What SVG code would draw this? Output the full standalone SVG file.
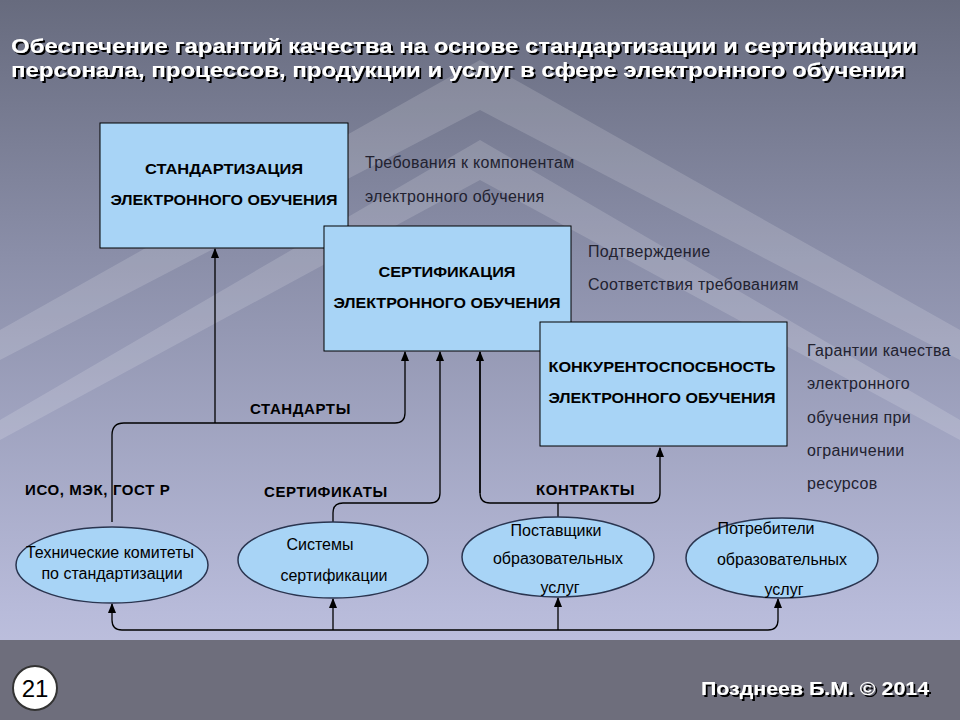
<svg xmlns="http://www.w3.org/2000/svg" width="960" height="720" viewBox="0 0 960 720">
<defs>
<linearGradient id="bg" x1="0" y1="0" x2="0" y2="1">
<stop offset="0" stop-color="#676b7e"/><stop offset="0.35" stop-color="#8a8ea8"/><stop offset="0.85" stop-color="#b8bbda"/><stop offset="1" stop-color="#c4c6e2"/>
</linearGradient>
<filter id="sh" x="-5%" y="-20%" width="110%" height="140%"><feDropShadow dx="2" dy="2" stdDeviation="0.5" flood-color="#000" flood-opacity="1"/></filter>
<marker id="ar" viewBox="0 0 10 10" refX="9" refY="5" markerWidth="8" markerHeight="8" orient="auto"><path d="M0,1 L10,5 L0,9 z" fill="#000"/></marker>
</defs>
<style>
.box{fill:#a8d4f6;stroke:#000;stroke-width:1}
.ell{fill:#a8d4f6;stroke:#2a3550;stroke-width:1.5}
.c{fill:none;stroke:#000;stroke-width:1.3}
.bt{font-family:"Liberation Sans",Arial,sans-serif;font-size:14px;font-weight:bold;fill:#000;text-anchor:middle}
.lb{font-family:"Liberation Sans",Arial,sans-serif;font-size:15px;font-weight:bold;fill:#000;letter-spacing:0.6px}
.side{font-family:"Liberation Sans",Arial,sans-serif;font-size:16px;fill:#222230;letter-spacing:0.3px}
.et{font-family:"Liberation Sans",Arial,sans-serif;font-size:16px;fill:#000;text-anchor:middle}
.ti{font-family:"Liberation Sans",Arial,sans-serif;font-size:21px;font-weight:bold;fill:#fff;filter:url(#sh)}
</style>
<rect width="960" height="720" fill="url(#bg)"/>
<g opacity="0.15" fill="#fff">
<polygon points="480,60 960,330 960,360 480,110 0,360 0,330"/>
<polygon points="480,140 960,420 960,440 480,180 0,440 0,420"/>
</g>
<rect y="640" width="960" height="80" fill="#6e6e7c"/>
<text class="ti" x="11" y="53" textLength="906" lengthAdjust="spacingAndGlyphs">Обеспечение гарантий качества на основе стандартизации и сертификации</text>
<text class="ti" x="11" y="77" textLength="894" lengthAdjust="spacingAndGlyphs">персонала, процессов, продукции и услуг в сфере электронного обучения</text>
<g id="connectors">
<path class="c" d="M112,522 V435 Q112,423 124,423 H395 Q405,423 405,413 V352" marker-end="url(#ar)"/>
<path class="c" d="M215,423 V249" marker-end="url(#ar)"/>
<path class="c" d="M333,522 V513 Q333,503 343,503 H430 Q440,503 440,493 V352" marker-end="url(#ar)"/>
<path class="c" d="M480,352 V493 Q480,503 490,503 H650 Q660,503 660,493 V448" marker-end="url(#ar)"/>
<path class="c" d="M480,493 V352" marker-end="url(#ar)"/>
<path class="c" d="M558,503 V517"/>
<path class="c" d="M122,630 H768 Q778,630 778,620 V599" marker-end="url(#ar)"/>
<path class="c" d="M122,630 Q112,630 112,620 V604" marker-end="url(#ar)"/>
<path class="c" d="M333,630 V599" marker-end="url(#ar)"/>
<path class="c" d="M558,630 V598" marker-end="url(#ar)"/>
</g>
<g id="n1"><rect class="box" x="100" y="123" width="248" height="125"/>
<text class="bt" x="224" y="174" textLength="158" lengthAdjust="spacingAndGlyphs">СТАНДАРТИЗАЦИЯ</text><text class="bt" x="224" y="205" textLength="227" lengthAdjust="spacingAndGlyphs">ЭЛЕКТРОННОГО ОБУЧЕНИЯ</text></g>
<g id="n2"><rect class="box" x="324" y="226" width="247" height="125"/>
<text class="bt" x="447" y="277" textLength="137" lengthAdjust="spacingAndGlyphs">СЕРТИФИКАЦИЯ</text><text class="bt" x="447" y="308" textLength="227" lengthAdjust="spacingAndGlyphs">ЭЛЕКТРОННОГО ОБУЧЕНИЯ</text></g>
<g id="n3"><rect class="box" x="540" y="322" width="247" height="124"/>
<text class="bt" x="662" y="372" textLength="227" lengthAdjust="spacingAndGlyphs">КОНКУРЕНТОСПОСБНОСТЬ</text><text class="bt" x="662" y="403" textLength="227" lengthAdjust="spacingAndGlyphs">ЭЛЕКТРОННОГО ОБУЧЕНИЯ</text></g>
<g id="e1"><ellipse class="ell" cx="112" cy="565" rx="96" ry="38"/>
<text class="et" x="110" y="558">Технические комитеты</text><text class="et" x="112" y="579">по стандартизации</text></g>
<g id="e2"><ellipse class="ell" cx="333" cy="560" rx="95" ry="38"/>
<text class="et" x="320" y="550">Системы</text><text class="et" x="334" y="581">сертификации</text></g>
<g id="e3"><ellipse class="ell" cx="558" cy="557" rx="96" ry="40"/>
<text class="et" x="556" y="536">Поставщики</text><text class="et" x="558" y="564">образовательных</text><text class="et" x="560" y="593">услуг</text></g>
<g id="e4"><ellipse class="ell" cx="782" cy="558" rx="96" ry="40"/>
<text class="et" x="766" y="534">Потребители</text><text class="et" x="782" y="565">образовательных</text><text class="et" x="784" y="595">услуг</text></g>
<g>
<text class="lb" x="250" y="414">СТАНДАРТЫ</text>
<text class="lb" x="25" y="495">ИСО, МЭК,  ГОСТ Р</text>
<text class="lb" x="264" y="497">СЕРТИФИКАТЫ</text>
<text class="lb" x="536" y="495">КОНТРАКТЫ</text>
<text class="side" x="365" y="168">Требования к компонентам</text>
<text class="side" x="365" y="202">электронного  обучения</text>
<text class="side" x="588" y="257">Подтверждение</text>
<text class="side" x="588" y="290">Соответствия требованиям</text>
<text class="side" x="807" y="356">Гарантии качества</text>
<text class="side" x="807" y="389">электронного</text>
<text class="side" x="807" y="423">обучения при</text>
<text class="side" x="807" y="456">ограничении</text>
<text class="side" x="807" y="489">ресурсов</text>
</g>
<g id="badge"><circle cx="35" cy="688" r="22" fill="#fff" stroke="#333" stroke-width="2"/>
<text x="35" y="697" font-family="Liberation Sans,Arial,sans-serif" font-size="24" text-anchor="middle" fill="#000">21</text></g>
<text x="929" y="695" font-family="Liberation Sans,Arial,sans-serif" font-size="19" font-weight="bold" text-anchor="end" fill="#fff" filter="url(#sh)" textLength="228" lengthAdjust="spacingAndGlyphs">Позднеев Б.М. © 2014</text>
</svg>
